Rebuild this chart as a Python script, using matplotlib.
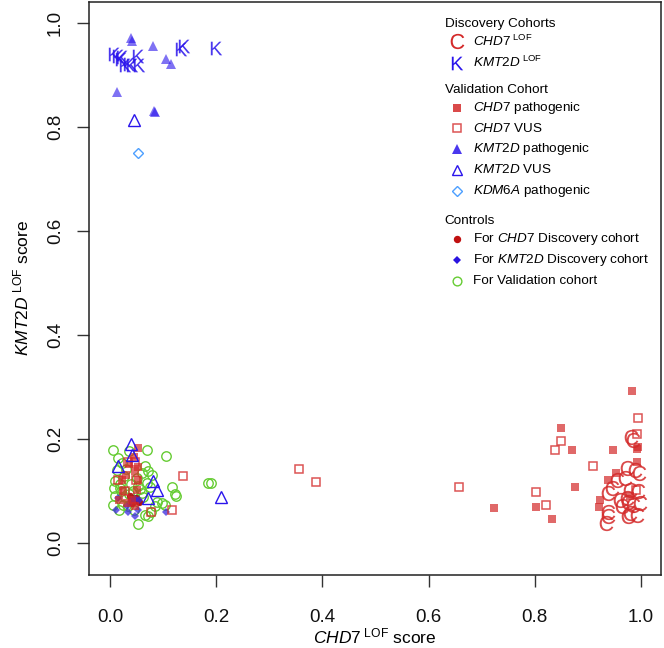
import matplotlib
matplotlib.use("Agg")
import matplotlib.pyplot as plt

plt.rcParams['font.family'] = ['Liberation Sans', 'DejaVu Sans']
plt.rcParams['mathtext.fontset'] = 'custom'
plt.rcParams['mathtext.rm'] = 'Liberation Sans'
plt.rcParams['mathtext.it'] = 'Liberation Sans:italic'
plt.rcParams['mathtext.bf'] = 'Liberation Sans:bold'

# Discovery cohorts
chd7_lof_x = [0.982, 0.986, 0.973, 0.989, 0.997, 0.970, 0.955, 0.945, 0.979, 0.995, 0.938, 0.960,
              0.976, 0.986, 0.965, 0.998, 0.938, 0.979, 0.992, 0.938, 0.976, 0.935, 0.973]
chd7_lof_y = [0.204, 0.198, 0.144, 0.140, 0.134, 0.124, 0.121, 0.105, 0.102, 0.100, 0.096, 0.083,
              0.079, 0.073, 0.070, 0.077, 0.060, 0.058, 0.054, 0.051, 0.051, 0.038, 0.086]
kmt2d_lof_x = [0.007, 0.015, 0.023, 0.020, 0.028, 0.036, 0.042, 0.052, 0.055, 0.134, 0.140, 0.200]
kmt2d_lof_y = [0.940, 0.936, 0.934, 0.931, 0.918, 0.921, 0.919, 0.936, 0.918, 0.950, 0.955, 0.951]

# Validation cohort
chd7_path_x = [0.984, 0.948, 0.995, 0.993, 0.954, 0.938, 0.923, 0.921, 0.979, 0.992, 0.849, 0.871,
               0.875, 0.723, 0.803, 0.832,
               0.052, 0.047, 0.052, 0.050, 0.022, 0.025, 0.016, 0.041, 0.031, 0.047, 0.035, 0.052,
               0.045, 0.030]
chd7_path_y = [0.291, 0.178, 0.185, 0.180, 0.135, 0.121, 0.083, 0.069, 0.089, 0.156, 0.221, 0.179,
               0.108, 0.067, 0.068, 0.045,
               0.182, 0.137, 0.120, 0.102, 0.121, 0.099, 0.083, 0.083, 0.077, 0.070, 0.152, 0.146,
               0.165, 0.130]
chd7_vus_x = [0.995, 0.993, 0.909, 0.991, 0.849, 0.839, 0.803, 0.822, 0.356, 0.388, 0.657,
              0.138, 0.116, 0.077, 0.033, 0.048, 0.014, 0.028, 0.046]
chd7_vus_y = [0.239, 0.210, 0.148, 0.102, 0.195, 0.179, 0.097, 0.072, 0.142, 0.117, 0.108,
              0.129, 0.063, 0.060, 0.156, 0.121, 0.120, 0.099, 0.156]
kmt2d_path_x = [0.040, 0.041, 0.080, 0.105, 0.115, 0.013, 0.082, 0.085]
kmt2d_path_y = [0.970, 0.965, 0.955, 0.930, 0.920, 0.866, 0.830, 0.828]
kmt2d_vus_x = [0.045, 0.040, 0.041, 0.014, 0.081, 0.089, 0.072, 0.209]
kmt2d_vus_y = [0.813, 0.190, 0.169, 0.147, 0.118, 0.101, 0.086, 0.088]
kdm6a_path_x = [0.053]
kdm6a_path_y = [0.750]

# Controls
ctrl_chd7_x = [0.049, 0.052, 0.042, 0.038, 0.055, 0.045]
ctrl_chd7_y = [0.086, 0.080, 0.076, 0.090, 0.078, 0.082]
ctrl_kmt2d_x = [0.014, 0.011, 0.031, 0.033, 0.046, 0.053, 0.047, 0.105, 0.055, 0.040]
ctrl_kmt2d_y = [0.086, 0.062, 0.070, 0.060, 0.052, 0.063, 0.084, 0.060, 0.082, 0.080]
ctrl_valid_x = [0.006, 0.070, 0.105, 0.014, 0.035, 0.022, 0.066, 0.072, 0.078, 0.009, 0.019, 0.069,
                0.075, 0.117, 0.122, 0.124, 0.060, 0.088, 0.097, 0.103, 0.084, 0.006, 0.016, 0.065,
                0.072, 0.077, 0.053, 0.009, 0.021, 0.026, 0.039, 0.033, 0.044, 0.059, 0.053, 0.062,
                0.185, 0.190, 0.012, 0.030, 0.043, 0.018, 0.028, 0.050, 0.008, 0.036, 0.024, 0.057]
ctrl_valid_y = [0.178, 0.179, 0.166, 0.163, 0.176, 0.153, 0.147, 0.137, 0.131, 0.118, 0.113, 0.115,
                0.108, 0.108, 0.094, 0.090, 0.096, 0.079, 0.076, 0.073, 0.070, 0.073, 0.063, 0.054,
                0.052, 0.060, 0.036, 0.090, 0.099, 0.128, 0.113, 0.070, 0.063, 0.134, 0.109, 0.087,
                0.115, 0.115, 0.140, 0.142, 0.100, 0.106, 0.087, 0.125, 0.105, 0.094, 0.072, 0.104]

red = '#D42A2A'
blue = '#2A14EC'
green = '#66CC33'
lightblue = '#4D9FFF'
C_MARK = r'$\mathrm{C}$'
K_MARK = r'$\mathrm{K}$'

fig = plt.figure(figsize=(6.64, 6.48), dpi=100)
ax = fig.add_axes([0.134, 0.1127, 0.8615, 0.8843])

ax.plot(ctrl_valid_x, ctrl_valid_y, 'o', ms=6.8, mfc='none', mec=green, mew=1.0, ls='none')
ax.plot(ctrl_chd7_x, ctrl_chd7_y, 'o', ms=4.3, color='#B01010', ls='none', alpha=0.9)
ax.plot(ctrl_kmt2d_x, ctrl_kmt2d_y, 'D', ms=4.0, color='#3A2AE0', ls='none', alpha=0.75, mew=0)
ax.plot(chd7_path_x, chd7_path_y, 's', ms=5.8, color=red, alpha=0.7, mew=0, ls='none')
ax.plot(chd7_vus_x, chd7_vus_y, 's', ms=5.4, mfc='none', mec=red, mew=1.1, alpha=0.8, ls='none')
ax.plot(kmt2d_path_x, kmt2d_path_y, '^', ms=7.8, color=blue, alpha=0.6, mew=0, ls='none')
ax.plot(kmt2d_vus_x, kmt2d_vus_y, '^', ms=8.2, mfc='none', mec=blue, mew=1.0, ls='none')
ax.plot(kdm6a_path_x, kdm6a_path_y, 'D', ms=5.2, mfc='none', mec=lightblue, mew=1.0, ls='none')
ax.plot(chd7_lof_x, chd7_lof_y, marker=C_MARK, ms=11, color=red, mew=0, alpha=0.85, ls='none')
ax.plot(kmt2d_lof_x, kmt2d_lof_y, marker=K_MARK, ms=9.8, color=blue, mew=0, alpha=0.85, ls='none')

ax.set_xlim(-0.04, 1.038)
ax.set_ylim(-0.062, 1.04)
ticks = [0.0, 0.2, 0.4, 0.6, 0.8, 1.0]
ax.set_xticks(ticks)
ax.set_yticks(ticks)
ax.set_xticklabels(['%.1f' % t for t in ticks])
ax.set_yticklabels(['%.1f' % t for t in ticks], rotation=90, va='center')
ax.tick_params(axis='both', direction='out', length=8.5, width=1.0, color='#333333',
               labelsize=13.5, labelcolor='#111111')
ax.tick_params(axis='x', pad=16)
ax.tick_params(axis='y', pad=9.5)
for s in ax.spines.values():
    s.set_linewidth(1.1)
    s.set_color('#222222')

ax.set_xlabel(r'$\mathit{CHD7}^{\ \mathrm{LOF}}$ score', fontsize=12.5, labelpad=0.5)
ax.set_ylabel(r'$\mathit{KMT2D}^{\ \mathrm{LOF}}$ score', fontsize=12.5, labelpad=11)

# legend drawn by hand in axes coordinates
fs = 9.7
hx, mx, lx = 0.622, 0.643, 0.671
tr = ax.transAxes
ax.text(hx, 0.962, 'Discovery Cohorts', transform=tr, fontsize=fs, va='center')
ax.plot(mx, 0.932, marker=C_MARK, ms=11, color=red, mew=0, transform=tr)
ax.text(lx, 0.932, r'$\mathit{CHD7}^{\ \mathrm{LOF}}$', transform=tr, fontsize=fs, va='center')
ax.plot(mx, 0.894, marker=K_MARK, ms=9.8, color=blue, mew=0, transform=tr)
ax.text(lx, 0.894, r'$\mathit{KMT2D}^{\ \mathrm{LOF}}$', transform=tr, fontsize=fs, va='center')

ax.text(hx, 0.846, 'Validation Cohort', transform=tr, fontsize=fs, va='center')
ax.plot(mx, 0.815, 's', ms=5.6, color=red, alpha=0.85, mew=0, transform=tr)
ax.text(lx, 0.815, r'$\mathit{CHD7}$ pathogenic', transform=tr, fontsize=fs, va='center')
ax.plot(mx, 0.780, 's', ms=5.4, mfc='none', mec=red, mew=1.1, alpha=0.8, transform=tr)
ax.text(lx, 0.780, r'$\mathit{CHD7}$ VUS', transform=tr, fontsize=fs, va='center')
ax.plot(mx, 0.743, '^', ms=7.5, color=blue, alpha=0.85, mew=0, transform=tr)
ax.text(lx, 0.743, r'$\mathit{KMT2D}$ pathogenic', transform=tr, fontsize=fs, va='center')
ax.plot(mx, 0.707, '^', ms=7.8, mfc='none', mec=blue, mew=1.0, transform=tr)
ax.text(lx, 0.707, r'$\mathit{KMT2D}$ VUS', transform=tr, fontsize=fs, va='center')
ax.plot(mx, 0.670, 'D', ms=5.2, mfc='none', mec=lightblue, mew=1.0, transform=tr)
ax.text(lx, 0.670, r'$\mathit{KDM6A}$ pathogenic', transform=tr, fontsize=fs, va='center')

ax.text(hx, 0.618, 'Controls', transform=tr, fontsize=fs, va='center')
ax.plot(mx, 0.586, 'o', ms=4.3, color='#C01010', transform=tr)
ax.text(lx, 0.586, r'For $\mathit{CHD7}$ Discovery cohort', transform=tr, fontsize=fs, va='center')
ax.plot(mx, 0.550, 'D', ms=4.0, color='#2A14E0', mew=0, transform=tr)
ax.text(lx, 0.550, r'For $\mathit{KMT2D}$ Discovery cohort', transform=tr, fontsize=fs, va='center')
ax.plot(mx, 0.513, 'o', ms=6.3, mfc='none', mec=green, mew=1.0, transform=tr)
ax.text(lx, 0.513, 'For Validation cohort', transform=tr, fontsize=fs, va='center')

fig.savefig('out.png', dpi=100)
